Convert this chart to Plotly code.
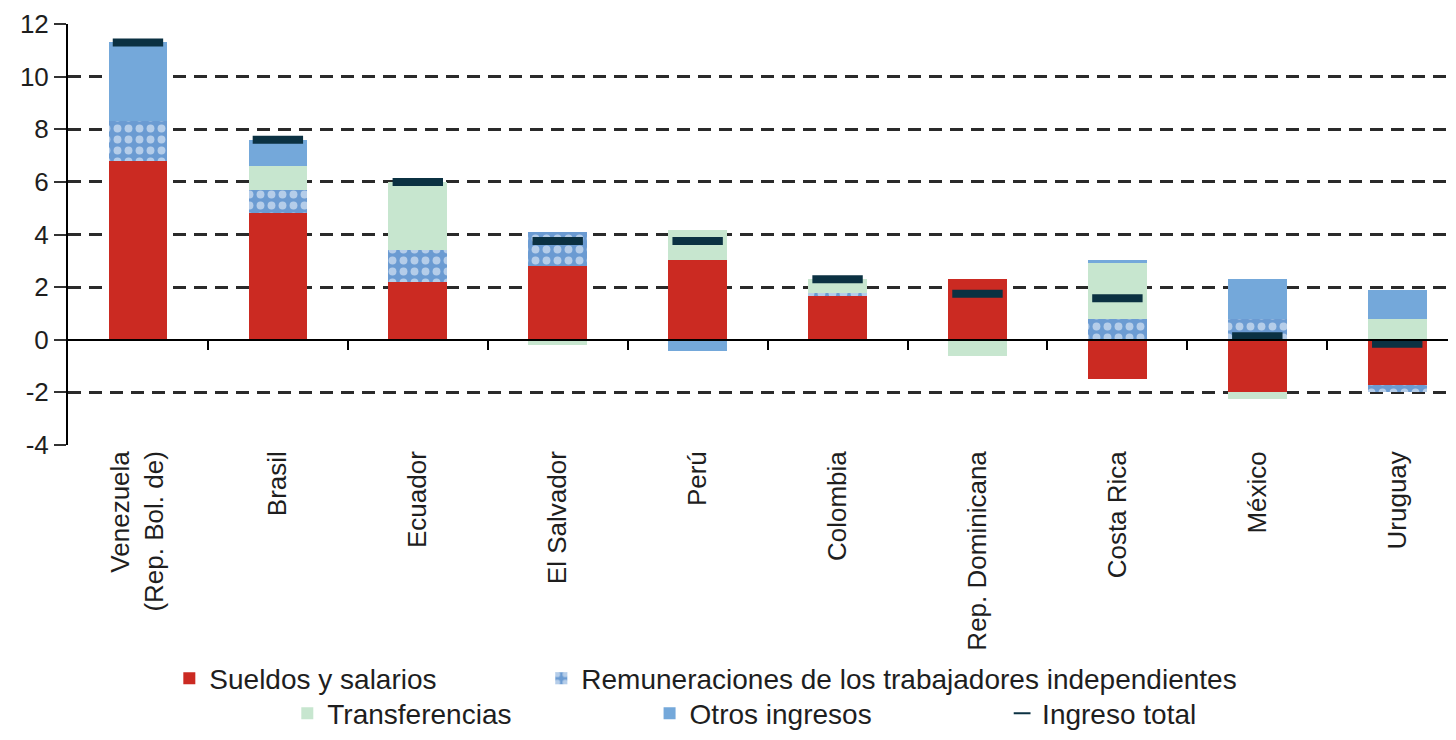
import plotly.graph_objects as go

# ── Datos ────────────────────────────────────────────────────────────────────
paises = [
    "Venezuela<br>(Rep. Bol. de)", "Brasil", "Ecuador", "El Salvador", "Perú",
    "Colombia", "Rep. Dominicana", "Costa Rica", "México", "Uruguay",
]
sueldos        = [6.8, 4.8, 2.2, 2.8, 3.05, 1.65, 2.3, -1.48, -1.99, -1.73]
independientes = [1.5, 0.9, 1.2, 1.3, 0.0, 0.12, 0.0, 0.77, 0.77, -0.25]
transferencias = [0.0, 0.9, 2.6, -0.2, 1.12, 0.53, -0.6, 2.15, -0.25, 0.8]
otros          = [3.0, 1.0, 0.0, 0.0, -0.44, 0.0, 0.0, 0.1, 1.52, 1.1]
ingreso_total  = [11.3, 7.6, 6.0, 3.75, 3.75, 2.3, 1.75, 1.58, 0.13, -0.15]

y_ticks  = [-4, -2, 0, 2, 4, 6, 8, 10, 12]
y_labels = ["-4", "-2", "0", "2", "4", "6", "8", "10", "12"]

# ── Estilo ───────────────────────────────────────────────────────────────────
RED   = "#CB2A22"
DOT   = "#6B9BD2"
GREEN = "#C7E6CF"
BLUE  = "#74A8DA"
NAVY  = "#0B3142"
TXT   = "#1E1E1E"
FONT  = "Liberation Sans, Arial, sans-serif"
BAR_W = 0.42

fig = go.Figure()

fig.add_trace(go.Bar(
    x=paises, y=sueldos, name="Sueldos y salarios",
    marker=dict(color=RED, line=dict(width=0)), width=BAR_W, legend="legend",
))
fig.add_trace(go.Bar(
    x=paises, y=independientes, name="Remuneraciones de los trabajadores independientes",
    marker=dict(
        color=DOT, line=dict(width=0),
        pattern=dict(shape=".", fgcolor="white", bgcolor=DOT, size=11, solidity=0.4, fillmode="overlay"),
    ),
    width=BAR_W, legend="legend2",
))
fig.add_trace(go.Bar(
    x=paises, y=transferencias, name="Transferencias",
    marker=dict(color=GREEN, line=dict(width=0)), width=BAR_W, legend="legend3",
))
fig.add_trace(go.Bar(
    x=paises, y=otros, name="Otros ingresos",
    marker=dict(color=BLUE, line=dict(width=0)), width=BAR_W, legend="legend4",
))
fig.add_trace(go.Scatter(
    x=paises, y=ingreso_total, name="Ingreso total", mode="markers",
    marker=dict(symbol="line-ew-open", size=36, color=NAVY, line=dict(color=NAVY, width=8)),
    legend="legend5",
))

# eje auxiliar en y=0 con marcas entre categorías
fig.add_trace(go.Scatter(x=[0], y=[None], xaxis="x2", showlegend=False, hoverinfo="skip"))


def _legend(x, y):
    return dict(
        orientation="h", x=x, xanchor="left", y=y, yanchor="middle",
        font=dict(size=28, color=TXT, family=FONT), itemsizing="constant",
        bgcolor="rgba(0,0,0,0)",
    )


x_range = [-0.5, 9.42]
ROW1, ROW2 = -0.555, -0.638
fig.update_layout(
    barmode="relative",
    bargap=0,
    width=1448, height=724,
    margin=dict(l=60, r=0, t=16, b=287, autoexpand=False),
    paper_bgcolor="white", plot_bgcolor="white",
    font=dict(family=FONT, color=TXT, size=26),
    xaxis=dict(
        type="category", range=x_range, automargin=False,
        showgrid=False, showline=False, zeroline=False, ticks="",
        tickangle=-90, tickfont=dict(size=26, color=TXT),
    ),
    xaxis2=dict(
        overlaying="x", anchor="free", position=0.25, automargin=False,
        range=x_range, showgrid=False, zeroline=False,
        showline=True, linecolor="black", linewidth=2,
        tickvals=[i + 0.5 for i in range(len(paises))],
        ticks="outside", ticklen=9, tickwidth=2, tickcolor="black",
        showticklabels=False,
    ),
    yaxis=dict(
        range=[-4, 12], tickvals=y_ticks, ticktext=y_labels, automargin=False,
        showgrid=True, gridcolor="#2A2A2A", gridwidth=2.5, griddash="13px,8px",
        zeroline=True, zerolinecolor="black", zerolinewidth=2,
        showline=True, linecolor="black", linewidth=2,
        ticks="outside", ticklen=12, tickwidth=2, tickcolor="#333",
        tickfont=dict(size=26, color=TXT),
    ),
    legend=_legend(0.073, ROW1),
    legend2=_legend(0.341, ROW1),
    legend3=_legend(0.158, ROW2),
    legend4=_legend(0.419, ROW2),
    legend5=_legend(0.673, ROW2),
)

fig.write_html("out.html")
